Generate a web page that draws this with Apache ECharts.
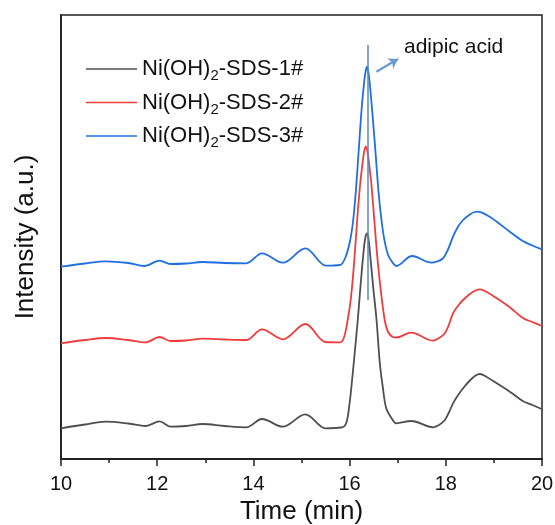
<!DOCTYPE html>
<html>
<head>
<meta charset="utf-8">
<script src="https://cdn.jsdelivr.net/npm/echarts@6/dist/echarts.min.js"></script>
<style>html,body{margin:0;padding:0;background:#fff}#c{width:555px;height:525px}</style>
</head>
<body>
<div id="c"></div>
<script>
// Retention time (min) and intensity (a.u., arbitrary offsets)
const timeGray = [10,10.5,10.93,11.4,11.76,12.05,12.28,12.6,12.94,13.4,13.85,14.18,14.61,15.08,15.5,15.83,15.93,16.0,16.05,16.11,16.17,16.23,16.3,16.33,16.36,16.39,16.42,16.49,16.56,16.63,16.69,16.76,16.87,16.97,17.28,17.74,17.86,17.98,18.07,18.15,18.25,18.36,18.5,18.62,18.71,18.85,19.06,19.33,19.6,19.8,20];
const valGray  = [30.7,34.5,37.3,35.5,33,37.7,32.3,33,35,33,31.7,40,32.3,44.7,30.7,31.5,36,56,78,108,139,175,212,222,225.7,221,208,172,139,95,72,51,41,35.7,38,31.7,34,39,47,55.7,63.5,70.7,78.5,83.5,85,82,75.7,67.3,58,54,49.7];

const timeRed = [10,10.5,10.93,11.4,11.76,12.05,12.28,12.6,12.94,13.4,13.85,14.18,14.61,15.08,15.5,15.8,15.88,15.96,16.03,16.1,16.16,16.22,16.28,16.305,16.335,16.365,16.39,16.45,16.51,16.58,16.65,16.73,16.8,16.9,16.97,17.28,17.74,17.86,17.98,18.07,18.15,18.25,18.36,18.5,18.62,18.71,18.85,19.06,19.33,19.6,19.8,20];
const valRed  = [115.7,119,121,119,116.7,122,118,118.5,120.3,119.5,119,129.7,119.7,135,117,116.7,121,139,162,200,241,275,300,308,312.3,309,301,276,241,200,168,139,127,122,121.5,126.3,118.3,121,125.7,135,145.7,153,159,165,168.5,169.7,167,160.7,151.7,141,137,133];

const timeBlue = [10,10.5,10.93,11.4,11.73,12.05,12.28,12.6,12.94,13.4,13.85,14.18,14.61,15.08,15.51,15.8,15.9,16.0,16.07,16.13,16.19,16.25,16.31,16.335,16.36,16.385,16.41,16.47,16.535,16.6,16.66,16.72,16.8,16.9,16.97,17.3,17.7,17.82,17.94,18.05,18.15,18.25,18.36,18.5,18.6,18.67,18.85,19.06,19.33,19.6,19.8,20];
const valBlue  = [192.3,195.5,197.7,196,193,198.3,195,195.5,197,196,195.7,205.7,196.3,210.7,193.3,194,200,216,237,268,309,350,380,388,392.3,388,380,348,309,268,240,220,204,196,193,203,196.3,197.5,200.7,210,222.3,232,239,244.5,247,247.3,244,237.3,227.3,218,213.5,209.7];

const seriesNames = ['Ni(OH)2-SDS-1#','Ni(OH)2-SDS-2#','Ni(OH)2-SDS-3#'];
const xTicks = [10,12,14,16,18,20];
const peakTime = 16.37;
const peakLineRange = [414, 159];
const arrowFrom = [16.556, 387.3];
const arrowTo = [17.006, 400];
const peakLabel = 'adipic acid';

const zip = (t, v) => t.map((x, i) => [x, v[i]]);
const colors = ['#4f4f4f', '#f03c3c', '#1f6fe0'];

const chart = echarts.init(document.getElementById('c'), null, {renderer: 'canvas'});
const mk = (i, t, v, extra) => Object.assign({
  name: seriesNames[i], type: 'line', data: zip(t, v), showSymbol: false, symbol: 'none',
  smooth: 0.35, lineStyle: {color: colors[i], width: 1.8}, itemStyle: {color: colors[i]}, z: 3
}, extra || {});

chart.setOption({
  animation: false,
  backgroundColor: '#fff',
  textStyle: {fontFamily: 'Liberation Sans, Arial, sans-serif'},
  grid: {left: 61, right: 13, top: 15, bottom: 66, show: true, containLabel: false, outerBoundsMode: 'none',
    borderColor: '#222', borderWidth: 1.5, backgroundColor: 'transparent'},
  legend: {
    orient: 'vertical', left: 81, top: 53, itemWidth: 51, itemHeight: 14, itemGap: 8,
    icon: 'path://M0,6.2 L51,6.2 L51,7.8 L0,7.8 Z',
    data: seriesNames.map((n, i) => ({name: n, itemStyle: {color: colors[i]}})),
    formatter: n => {
      const p = n.split('2-');
      return '{a|Ni(OH)}{s|2}{a|-' + p[1] + '}';
    },
    textStyle: {
      color: '#111', padding: [0, 0, 0, 0],
      rich: {
        a: {fontSize: 22, color: '#111', fontFamily: 'Liberation Sans'},
        s: {fontSize: 15, color: '#111', fontFamily: 'Liberation Sans', padding: [14, 0, 0, 0]}
      }
    }
  },
  xAxis: {
    type: 'value', min: 10, max: 20, interval: 2,
    name: 'Time (min)', nameLocation: 'middle', nameGap: 39,
    nameTextStyle: {fontSize: 26, color: '#111', fontFamily: 'Liberation Sans'},
    axisLine: {lineStyle: {color: '#222', width: 1.8}},
    axisTick: {inside: false, length: 7, lineStyle: {color: '#222', width: 1.5}},
    minorTick: {show: true, splitNumber: 2, length: 4, lineStyle: {color: '#222', width: 1.5}},
    axisLabel: {fontSize: 20, color: '#111', margin: 15, fontFamily: 'Liberation Sans',
      formatter: v => xTicks.includes(v) ? String(v) : ''},
    splitLine: {show: false}
  },
  yAxis: {
    type: 'value', min: 0, max: 444,
    name: 'Intensity (a.u.)', nameLocation: 'middle', nameGap: 22,
    nameTextStyle: {fontSize: 26, color: '#111', fontFamily: 'Liberation Sans'},
    axisLine: {show: true, lineStyle: {color: '#222', width: 1.8}},
    axisTick: {show: false}, axisLabel: {show: false}, splitLine: {show: false}
  },
  series: [
    mk(0, timeGray, valGray),
    mk(1, timeRed, valRed),
    mk(2, timeBlue, valBlue, {
      markLine: {
        silent: true, animation: false, label: {show: false},
        data: [
          [{coord: [peakTime, peakLineRange[0]], symbol: 'none', lineStyle: {color: '#5b86bd', width: 1.5, type: 'solid'}},
           {coord: [peakTime, peakLineRange[1]], symbol: 'none'}],
          [{coord: arrowFrom, symbol: 'none', lineStyle: {color: '#6c9bd2', width: 2.2, type: 'solid'}},
           {coord: arrowTo, symbol: 'arrow', symbolSize: [9, 9]}]
        ]
      }
    })
  ],
  graphic: [{
    type: 'text', left: 404, top: 37,
    style: {text: peakLabel, fontSize: 21, fill: '#111', fontFamily: 'Liberation Sans'}
  }]
});
</script>
</body>
</html>
